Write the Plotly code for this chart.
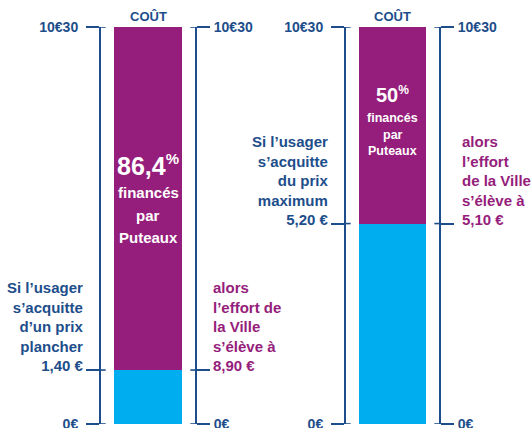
import plotly.graph_objects as go

# ---- data ----
scenarios = ["prix plancher", "prix maximum"]
user_price = [1.40, 5.20]          # part payée par l'usager
city_effort = [8.90, 5.10]         # part financée par la Ville
total_cost = 10.30
city_share_txt = ["86,4", "50"]
user_price_txt = ["1,40 €", "5,20 €"]
city_effort_txt = ["8,90 €", "5,10 €"]
tick_text = ["0€", "", "10€30"]
left_blocks = ["Si l’usager<br>s’acquitte<br>d’un prix<br>plancher<br>",
               "Si l’usager<br>s’acquitte<br>du prix<br>maximum<br>"]
right_blocks = ["alors<br>l’effort de<br>la Ville<br>s’élève à<br>",
                "alors<br>l’effort<br>de la Ville<br>s’élève à<br>"]

NAVY = "#1D4E8B"
PURPLE = "#951D7B"
CYAN = "#00ADEE"
FONT = "Liberation Sans, Arial, sans-serif"

W, H = 532, 428
fig = go.Figure()

xdomains = [[101 / W, 195 / W], [346 / W, 439 / W]]
for i in range(2):
    xa = "x" if i == 0 else "x2"
    ya = "y" if i == 0 else "y3"
    yb = "y2" if i == 0 else "y4"
    fig.add_trace(go.Bar(x=[scenarios[i]], y=[user_price[i]], marker=dict(color=CYAN, line=dict(width=0)),
                         xaxis=xa, yaxis=ya, showlegend=False, hoverinfo="skip"))
    fig.add_trace(go.Bar(x=[scenarios[i]], y=[city_effort[i]], marker=dict(color=PURPLE, line=dict(width=0)),
                         xaxis=xa, yaxis=ya, showlegend=False, hoverinfo="skip"))
    # empty trace so that the right-hand axis exists
    fig.add_trace(go.Scatter(x=[scenarios[i]], y=[None], mode="markers", xaxis=xa, yaxis=yb,
                             showlegend=False, hoverinfo="skip"))

axis_common = dict(range=[0, total_cost], showgrid=False, zeroline=False, showline=True,
                   linecolor=NAVY, linewidth=2, ticks="outside", ticklen=13, tickwidth=1.6,
                   tickcolor=NAVY, tickfont=dict(family=FONT, size=14, color=NAVY, weight="bold"),
                   ticklabeloverflow="allow", automargin=False, fixedrange=True)

layout = dict(
    width=W, height=H, margin=dict(l=0, r=0, t=27, b=4),
    paper_bgcolor="white", plot_bgcolor="white", barmode="stack", bargap=0.28,
    showlegend=False,
    xaxis=dict(domain=xdomains[0], visible=False, fixedrange=True),
    xaxis2=dict(domain=xdomains[1], visible=False, fixedrange=True),
)
shapes = []
for i in range(2):
    tv = [0, user_price[i], total_cost]
    ln = "" if i == 0 else "3"
    rn = "2" if i == 0 else "4"
    xa = "x" if i == 0 else "x2"
    layout["yaxis" + ln] = dict(axis_common, anchor=xa, side="left", tickvals=tv, ticktext=tick_text,
                                ticklabelstandoff=5)
    layout["yaxis" + rn] = dict(axis_common, anchor=xa, side="right", overlaying="y" + ln,
                                tickvals=tv, ticktext=tick_text, ticklabelstandoff=1)
    # small inner overshoot of each tick across the axis line
    xd = "x domain" if i == 0 else "x2 domain"
    for v in tv:
        for a, b in ((0, 0.05), (0.95, 1)):
            shapes.append(dict(type="line", xref=xd, yref="y" + ln, x0=a, x1=b, y0=v, y1=v,
                               line=dict(color=NAVY, width=1.6), layer="above"))
layout["shapes"] = shapes
fig.update_layout(**layout)

ann = []
inner = [
    dict(big=0.652, lines=[0.582, 0.524, 0.471], bigsize=25, small=15),
    dict(big=0.831, lines=[0.771, 0.728, 0.688], bigsize=20, small=12.5),
]
for i in range(2):
    xd = "x domain" if i == 0 else "x2 domain"
    yd = "y domain" if i == 0 else "y3 domain"
    yr = "y" if i == 0 else "y3"
    # title
    ann.append(dict(xref=xd, yref=yd, x=0.5, y=1, yanchor="bottom", yshift=1, text="COÛT", showarrow=False,
                    font=dict(family=FONT, size=13, color=NAVY, weight="bold")))
    cfg = inner[i]
    ann.append(dict(xref=xd, yref=yd, x=0.5, y=cfg["big"], xanchor="center", yanchor="middle", showarrow=False,
                    text=city_share_txt[i] + "<sup><span style='font-size:%dpx'>%%</span></sup>" % int(cfg["bigsize"] * 0.6),
                    font=dict(family=FONT, size=cfg["bigsize"], color="white", weight="bold")))
    for t, yy in zip(["financés", "par", "Puteaux"], cfg["lines"]):
        ann.append(dict(xref=xd, yref=yd, x=0.5, y=yy, xanchor="center", yanchor="middle", text=t, showarrow=False,
                        font=dict(family=FONT, size=cfg["small"], color="white", weight="bold")))
    # side blocks
    ann.append(dict(xref=xd, yref=yr, x=0, y=user_price[i], xanchor="right", yanchor="bottom",
                    xshift=-15, yshift=-6, align="right", showarrow=False,
                    text=left_blocks[i] + user_price_txt[i],
                    font=dict(family=FONT, size=15, color=NAVY, weight="bold")))
    ann.append(dict(xref=xd, yref=yr, x=1, y=user_price[i], xanchor="left", yanchor="bottom",
                    xshift=16 if i == 0 else 21, yshift=-6, align="left", showarrow=False,
                    text=right_blocks[i] + city_effort_txt[i],
                    font=dict(family=FONT, size=15, color=PURPLE, weight="bold")))
fig.update_layout(annotations=ann)

fig.write_html("out.html", config=dict(displayModeBar=False),
               post_script="document.body.style.margin='0px';document.body.style.overflow='hidden';")
